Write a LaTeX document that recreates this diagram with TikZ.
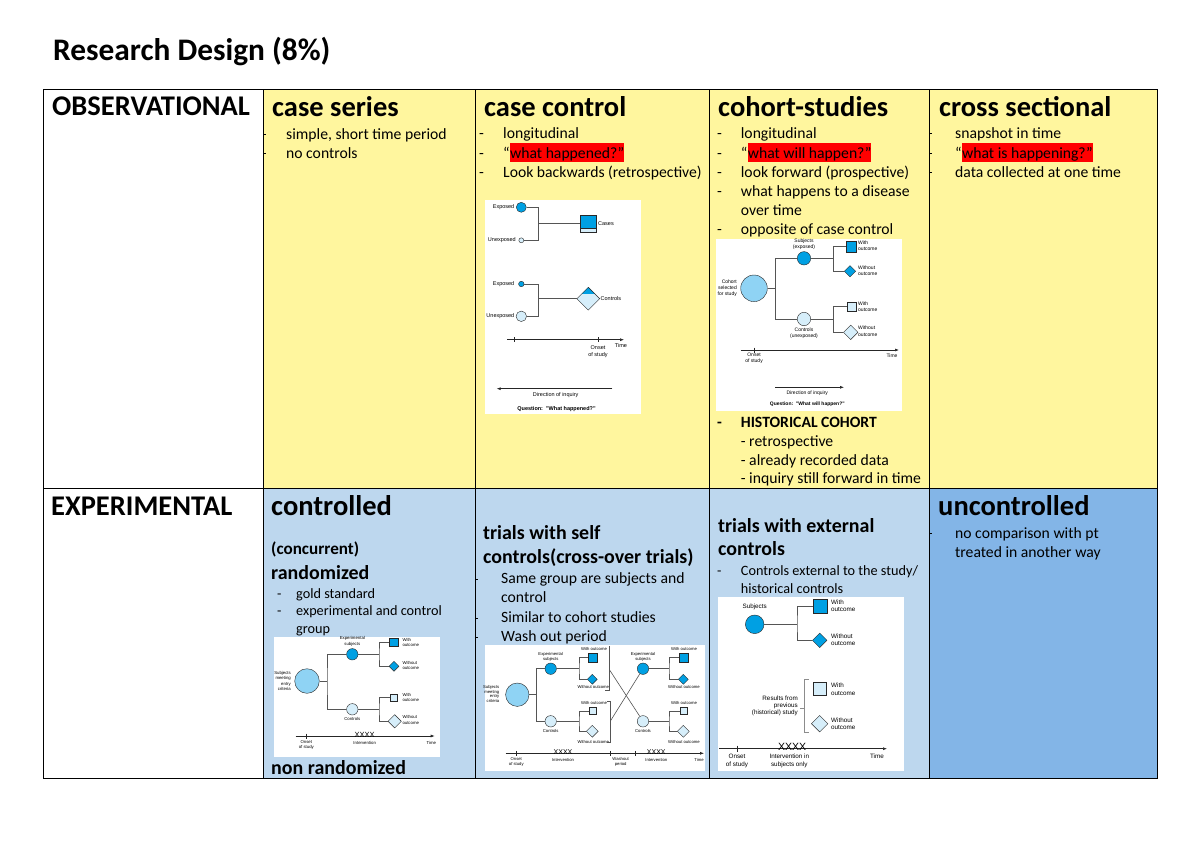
\documentclass[tikz,border=0pt]{standalone}
\usepackage{fontspec}
\setmainfont{Carlito}
\newfontfamily\dgf{Liberation Sans}
\usetikzlibrary{shapes.geometric,arrows.meta}
\definecolor{cYel}{RGB}{255,246,158}
\definecolor{cLbl}{RGB}{189,215,238}
\definecolor{cDbl}{RGB}{131,181,231}
\definecolor{cHl}{RGB}{255,0,0}
\definecolor{cSb}{RGB}{0,160,227}
\definecolor{cSl}{RGB}{214,238,250}
\definecolor{cSm}{RGB}{143,211,244}
\definecolor{cOl}{RGB}{40,40,40}
\definecolor{cLn}{RGB}{85,85,85}
\begin{document}
\begin{tikzpicture}[x=1pt,y=-1pt,
  sTx/.style={anchor=base west, inner sep=0pt, font=\fontsize{15.68pt}{18pt}\selectfont},
  sTb/.style={anchor=base west, inner sep=0pt, font=\bfseries\fontsize{15.68pt}{18pt}\selectfont},
  sTen/.style={anchor=base west, inner sep=0pt, font=\fontsize{14.25pt}{16pt}\selectfont},
  sHd/.style={anchor=base west, inner sep=0pt, font=\bfseries\fontsize{28.5pt}{32pt}\selectfont},
  sSub/.style={anchor=base west, inner sep=0pt, font=\bfseries\fontsize{19.95pt}{22pt}\selectfont},
  sSubs/.style={anchor=base west, inner sep=0pt, font=\bfseries\fontsize{17.1pt}{20pt}\selectfont},
  sTtl/.style={anchor=base west, inner sep=0pt, font=\bfseries\fontsize{31.35pt}{36pt}\selectfont},
  sHl/.style={anchor=base west, inner sep=0pt, fill=cHl, text height=15pt, text depth=4pt, font=\fontsize{15.68pt}{18pt}\selectfont},
  sDl/.style args={#1/#2}{inner sep=0pt, align=center, font=\dgf\fontsize{#1pt}{#2pt}\selectfont},
  sDot/.style={circle, draw=cOl, line width=0.4pt, inner sep=0pt},
  sSq/.style={rectangle, draw=cOl, line width=0.4pt, inner sep=0pt},
  sDia/.style={diamond, draw=cOl, line width=0.4pt, inner sep=0pt},
  sLn/.style={draw=cLn, line width=0.6pt},
  sAx/.style={draw=black!85, line width=0.6pt},
  sArr/.style={draw=black!85, line width=0.6pt, -{Latex[length=4pt,width=3pt]}},
  sTab/.style={draw=black, line width=0.9pt},
  sTick/.style={draw=black, line width=0.8pt}
]
\useasboundingbox (0,0) rectangle (1200,849);
% ---------- table ----------
\fill[cYel] (263,89) rectangle (1157,488);
\fill[cLbl] (263,488) rectangle (929,778);
\fill[cDbl] (929,488) rectangle (1157,778);
% image backgrounds
\fill[white] (485,200) rectangle (641,414);
\fill[white] (716,239) rectangle (902,411);
\fill[white] (274,637) rectangle (440,757);
\fill[white] (485,645) rectangle (705,771);
\fill[white] (718,597) rectangle (904,771);

% ---------- title and row heads ----------
\node[sTtl] (title) at (53,60) {Research Design (8\%)};
\node[sHd] (obsH) at (52,115) {OBSERVATIONAL};
\node[sHd] (expH) at (51,515) {EXPERIMENTAL};

% ---------- case series ----------
\node[sHd] (csH) at (272,116) {case series};
\node[sTx] (cs1) at (286,139) {simple, short time period};
\node[sTx] (cs2) at (286,158) {no controls};
\draw[sTick] (263,134.5) -- ++(3,0);
\draw[sTick] (263,153.5) -- ++(3,0);

% ---------- case control ----------
\node[sHd] (ccH) at (484,116) {case control};
\node[sTx] (cc1d) at (479,138) {-};
\node[sTx] (cc1) at (503,138) {longitudinal};
\node[sTx] (cc2d) at (479,158) {-};
\node[sTx] (cc2q) at (503,158) {“};
\node[sHl] (cc2) at (cc2q.base east) {what happened?”};
\node[sTx] (cc3d) at (479,177.3) {-};
\node[sTx] (cc3) at (503,177.3) {Look backwards (retrospective)};

% ---------- cohort ----------
\node[sHd] (coH) at (718,116) {cohort-studies};
\node[sTx] (co1d) at (717,138.3) {-};
\node[sTx] (co1) at (740.7,138.3) {longitudinal};
\node[sTx] (co2d) at (717,158) {-};
\node[sTx] (co2q) at (740.7,158) {“};
\node[sHl] (co2) at (co2q.base east) {what will happen?”};
\node[sTx] (co3d) at (717,177.3) {-};
\node[sTx] (co3) at (740.7,177.3) {look forward (prospective)};
\node[sTx] (co4d) at (717,196.7) {-};
\node[sTx] (co4) at (740.7,196.7) {what happens to a disease};
\node[sTx] (co5) at (740.7,215.5) {over time};
\node[sTx] (co6d) at (717,234.3) {-};
\node[sTx] (co6) at (740.7,234.3) {opposite of case control};
\node[sTb] (hc0d) at (717,427) {-};
\node[sTb] (hc0) at (740.7,427) {HISTORICAL COHORT};
\node[sTx] (hc1) at (740.7,446) {- retrospective};
\node[sTx] (hc2) at (740.7,465) {- already recorded data};
\node[sTx] (hc3) at (740.7,483.5) {- inquiry still forward in time};

% ---------- cross sectional ----------
\node[sHd] (xsH) at (939,116) {cross sectional};
\node[sTx] (xs1) at (955,138) {snapshot in time};
\node[sTx] (xs2q) at (955,158) {“};
\node[sHl] (xs2) at (xs2q.base east) {what is happening?”};
\node[sTx] (xs3) at (955,177.3) {data collected at one time};
\draw[sTick] (929,133.5) -- ++(3,0);
\draw[sTick] (929,153.5) -- ++(3,0);
\draw[sTick] (929,172.8) -- ++(3,0);

% ---------- controlled ----------
\node[sHd] (ctH) at (271,515) {controlled};
\node[sSubs] (conc) at (271,554) {(concurrent)};
\node[sSub] (rand) at (271,579) {randomized};
\node[sTen] (g1d) at (277,598.5) {-};
\node[sTen] (g1) at (296,598.5) {gold standard};
\node[sTen] (g2d) at (277,615.5) {-};
\node[sTen] (g2) at (296,615.5) {experimental and control};
\node[sTen] (g3) at (296,633) {group};
\node[sSub] (nonr) at (271,774) {non randomized};

% ---------- self controls ----------
\node[sSub] (sfH1) at (483,539.5) {trials with self};
\node[sSub] (sfH2) at (483,563.5) {controls(cross-over trials)};
\node[sTx] (sf1) at (501,583.5) {Same group are subjects and};
\node[sTx] (sf2) at (501,602.5) {control};
\node[sTx] (sf3) at (501,622.5) {Similar to cohort studies};
\node[sTx] (sf4) at (501,641.5) {Wash out period};
\draw[sTick] (475,579) -- ++(3,0);
\draw[sTick] (475,618) -- ++(3,0);
\draw[sTick] (475,637) -- ++(3,0);

% ---------- external controls ----------
\node[sSub] (exH1) at (718,532.7) {trials with external};
\node[sSub] (exH2) at (718,555.7) {controls};
\node[sTen] (ex1d) at (717,575.7) {-};
\node[sTen] (ex1) at (740.7,575.7) {Controls external to the study/};
\node[sTen] (ex2) at (740.7,593.3) {historical controls};

% ---------- uncontrolled ----------
\node[sHd] (unH) at (938,515) {uncontrolled};
\node[sTx] (un1) at (955,538.3) {no comparison with pt};
\node[sTx] (un2) at (955,557.3) {treated in another way};
\draw[sTick] (929,533.8) -- ++(3,0);

% ---------- table lines ----------
\draw[sTab] (43,89) rectangle (1157,778);
\draw[sTab] (43,488) -- (1157,488);
\foreach \xx in {263,475,709,929} \draw[sTab] (\xx,89) -- (\xx,778);

% ================= case-control diagram =================
\node[sDot, fill=cSb, minimum size=10pt] (ccE1) at (521.3,207.3) {};
\node[sDot, fill=cSl, minimum size=5pt] (ccU1) at (521.3,240.3) {};
\coordinate (ccJ1) at (538.3,223.5);
\node[sSq, fill=cSb, minimum size=16.5pt,
  path picture={\fill[cSl] (path picture bounding box.south west) rectangle ([yshift=4pt]path picture bounding box.south east);
  \draw[cOl, line width=0.4pt] ([yshift=4pt]path picture bounding box.south west) -- ([yshift=4pt]path picture bounding box.south east);}] (ccCase) at (588,223.5) {};
\draw[sLn] (ccE1.east) -| (ccJ1) |- (ccU1.east);
\draw[sLn] (ccJ1) -- (ccCase.west);
\node[sDl=5.5/6.7, anchor=east] (ccLE1) at (514.5,207.3) {Exposed};
\node[sDl=5.5/6.7, anchor=east] (ccLU1) at (516,240.3) {Unexposed};
\node[sDl=5.5/6.7, anchor=west] (ccLC) at (598,223.5) {Cases};
\node[sDot, fill=cSb, minimum size=5.5pt] (ccE2) at (521.3,284) {};
\node[sDot, fill=cSl, minimum size=10.5pt] (ccU2) at (521.3,316.3) {};
\coordinate (ccJ2) at (538.3,298.7);
\node[sDia, fill=cSl, minimum size=23pt,
  path picture={\fill[cSb] (path picture bounding box.north west) rectangle ([yshift=-7pt]path picture bounding box.north east);}] (ccCtl) at (588.3,298.7) {};
\draw[sLn] (ccE2.east) -| (ccJ2) |- (ccU2.east);
\draw[sLn] (ccJ2) -- (ccCtl.west);
\node[sDl=5.5/6.7, anchor=east] (ccLE2) at (514.5,284) {Exposed};
\node[sDl=5.5/6.7, anchor=east] (ccLU2) at (514.5,316.3) {Unexposed};
\node[sDl=5.5/6.7, anchor=west] (ccLK) at (600.5,298.7) {Controls};
\coordinate (ccT0) at (507.3,339.7);
\coordinate (ccT1) at (624,339.7);
\draw[sArr] (ccT0) -- (ccT1);
\coordinate (ccK1) at (514.7,339.7);
\coordinate (ccK2) at (598,339.7);
\draw[sAx] (ccK1) ++(0,-2.5) -- ++(0,5);
\draw[sAx] (ccK2) ++(0,-2.5) -- ++(0,5);
\node[sDl=5.5/6.7] (ccLT) at (621,345.5) {Time};
\node[sDl=5.5/6.7] (ccLO) at (598,351.5) {Onset\\of study};
\coordinate (ccD0) at (612.3,388.7);
\coordinate (ccD1) at (496.7,388.7);
\draw[sArr] (ccD0) -- (ccD1);
\node[sDl=5.5/6.7] (ccLD) at (555.7,395) {Direction of inquiry};
\node[sDl=5.5/6.7] (ccLQ) at (556.5,409) {\bfseries Question:\ \ "What happened?"};

% ================= cohort diagram =================
\node[sDot, fill=cSm, minimum size=26.6pt] (coC) at (754,288.3) {};
\node[sDot, fill=cSb, minimum size=13.4pt] (coS) at (804,258.3) {};
\node[sDot, fill=cSl, minimum size=13.4pt] (coK) at (804,319) {};
\coordinate (coJ) at (775.7,288.3);
\draw[sLn] (coC.east) -- (coJ);
\draw[sLn] (coS.west) -| (coJ) |- (coK.west);
\node[sDl=5/6.2, align=right, anchor=east] (coLC) at (737,288.3) {Cohort\\selected\\for study};
\node[sDl=5/6.2] (coLS) at (804,244.3) {Subjects\\(exposed)};
\node[sDl=5/6.2] (coLK) at (804,333.5) {Controls\\(unexposed)};
\coordinate (coJ1) at (833.3,258.3);
\node[sSq, fill=cSb, minimum size=10.6pt] (coSw) at (851,246.7) {};
\node[sDia, fill=cSb, minimum size=11.4pt] (coSo) at (850,271.3) {};
\draw[sLn] (coS.east) -- (coJ1);
\draw[sLn] (coSw.west) -| (coJ1) |- (coSo.west);
\coordinate (coJ2) at (833.3,319);
\node[sSq, fill=cSl, minimum size=9pt] (coKw) at (851.2,306.5) {};
\node[sDia, fill=cSl, minimum size=14.6pt] (coKo) at (850.7,332.3) {};
\draw[sLn] (coK.east) -- (coJ2);
\draw[sLn] (coKw.west) -| (coJ2) |- (coKo.west);
\node[sDl=5/6.2, align=left, anchor=west] (coL1) at (858,245.5) {With\\outcome};
\node[sDl=5/6.2, align=left, anchor=west] (coL2) at (858,271) {Without\\outcome};
\node[sDl=5/6.2, align=left, anchor=west] (coL3) at (858,306.7) {With\\outcome};
\node[sDl=5/6.2, align=left, anchor=west] (coL4) at (858,331.2) {Without\\outcome};
\coordinate (coT0) at (740.7,350);
\coordinate (coT1) at (899,350);
\draw[sArr] (coT0) -- (coT1);
\coordinate (coK1) at (754,350);
\draw[sAx] (coK1) ++(0,-2.5) -- ++(0,5);
\node[sDl=5/6.2] (coLO) at (754,358) {Onset\\of study};
\node[sDl=5/6.2] (coLT) at (892,356) {Time};
\coordinate (coD0) at (775,387.3);
\coordinate (coD1) at (844,387.3);
\draw[sArr] (coD0) -- (coD1);
\node[sDl=5/6.2] (coLD) at (807.3,393.5) {Direction of inquiry};
\node[sDl=5/6.2] (coLQ) at (807.3,404.7) {\bfseries Question:\ \ "What will happen?"};

% ================= controlled diagram =================
\node[sDot, fill=cSm, minimum size=24.6pt] (ctB) at (307,681) {};
\node[sDot, fill=cSb, minimum size=11.4pt] (ctE) at (352.3,654.3) {};
\node[sDot, fill=cSl, minimum size=11.4pt] (ctK) at (352.3,709.3) {};
\coordinate (ctJ) at (327,681);
\draw[sLn] (ctB.east) -- (ctJ);
\draw[sLn] (ctE.west) -| (ctJ) |- (ctK.west);
\node[sDl=4.3/5.2, align=right, anchor=east] (ctLB) at (291,681) {Subjects\\meeting\\entry\\criteria};
\node[sDl=4.3/5.2] (ctLE) at (352.3,641.3) {Experimental\\subjects};
\node[sDl=4.3/5.2] (ctLK) at (352.3,719) {Controls};
\coordinate (ctJ1) at (379,654.3);
\node[sSq, fill=cSb, minimum size=8.5pt] (ctEw) at (393.8,642.3) {};
\node[sDia, fill=cSb, minimum size=10pt] (ctEo) at (394,666.3) {};
\draw[sLn] (ctE.east) -- (ctJ1);
\draw[sLn] (ctEw.west) -| (ctJ1) |- (ctEo.west);
\coordinate (ctJ2) at (379,709.3);
\node[sSq, fill=cSl, minimum size=7pt] (ctKw) at (394,697.3) {};
\node[sDia, fill=cSl, minimum size=13.4pt] (ctKo) at (394.7,721.3) {};
\draw[sLn] (ctK.east) -- (ctJ2);
\draw[sLn] (ctKw.west) -| (ctJ2) |- (ctKo.west);
\node[sDl=4.3/5.6, align=left, anchor=west] (ctL1) at (402.3,642.3) {With\\outcome};
\node[sDl=4.3/5.6, align=left, anchor=west] (ctL2) at (402.3,665.3) {Without\\outcome};
\node[sDl=4.3/5.6, align=left, anchor=west] (ctL3) at (402.3,697.3) {With\\outcome};
\node[sDl=4.3/5.6, align=left, anchor=west] (ctL4) at (402.3,720) {Without\\outcome};
\coordinate (ctT0) at (295.7,736);
\coordinate (ctT1) at (434.7,736);
\draw[sArr] (ctT0) -- (ctT1);
\coordinate (ctK1) at (306.3,736);
\draw[sAx] (ctK1) ++(0,-2.5) -- ++(0,5);
\node[sDl=7.5/8] (ctX) at (364.7,735.3) {XXXX};
\node[sDl=4.3/5.2] (ctLO) at (306.3,745) {Onset\\of study};
\node[sDl=4.3/5.2] (ctLI) at (364.7,742.7) {Intervention};
\node[sDl=4.3/5.2] (ctLT) at (431.3,742.7) {Time};

% ================= cross-over diagram =================
\node[sDot, fill=cSm, minimum size=23.4pt] (crB) at (517.3,694.7) {};
\node[sDot, fill=cSb, minimum size=11.4pt] (crE1) at (550.7,668.7) {};
\node[sDot, fill=cSl, minimum size=11.4pt] (crK1) at (550.7,721.3) {};
\coordinate (crJ) at (536.7,694.7);
\draw[sLn] (crB.east) -- (crJ);
\draw[sLn] (crE1.west) -| (crJ) |- (crK1.west);
\node[sDl=4.2/4.6, align=right, anchor=east] (crLB) at (499.5,694) {Subjects\\meeting\\entry\\criteria};
\node[sDl=4.2/4.6] (crLE1) at (550.7,656.7) {Experimental\\subjects};
\node[sDl=4.2/4.6] (crLK1) at (550.7,731.3) {Controls};
\coordinate (crJ1) at (579,668.7);
\node[sSq, fill=cSb, minimum size=9pt] (crE1w) at (592.8,657.3) {};
\node[sDia, fill=cSb, minimum size=10pt] (crE1o) at (592.3,679.3) {};
\draw[sLn] (crE1.east) -- (crJ1);
\draw[sLn] (crE1w.west) -| (crJ1) |- (crE1o.west);
\coordinate (crJ2) at (579,721.3);
\node[sSq, fill=cSl, minimum size=7.5pt] (crK1w) at (592.7,710.8) {};
\node[sDia, fill=cSl, minimum size=12pt] (crK1o) at (592.3,731.3) {};
\draw[sLn] (crK1.east) -- (crJ2);
\draw[sLn] (crK1w.west) -| (crJ2) |- (crK1o.west);
\node[sDl=4.2/4.6] (crL1) at (594,648.7) {With outcome};
\node[sDl=4.2/4.6] (crL2) at (593.3,687) {Without outcome};
\node[sDl=4.2/4.6] (crL3) at (594,703) {With outcome};
\node[sDl=4.2/4.6] (crL4) at (593.3,742) {Without outcome};
\draw[sLn] (605,690.3) -- (609.3,690.3) -- (609.3,645.5);
\draw[sLn] (607,701.3) -- (610.7,701.3) -- (610.7,742) -- (607,742);
\node[sDot, fill=cSb, minimum size=11.4pt] (crE2) at (643,668.7) {};
\node[sDot, fill=cSl, minimum size=11.4pt] (crK2) at (643,721.3) {};
\coordinate (crX1) at (609.3,669.5);
\coordinate (crX2) at (610.7,720.5);
\draw[sLn] (crX1) -- (crK2);
\draw[sLn] (crX2) -- (crE2);
\node[sDl=4.2/4.6] (crLE2) at (643,656.7) {Experimental\\subjects};
\node[sDl=4.2/4.6] (crLK2) at (643,731.3) {Controls};
\coordinate (crJ3) at (669,668.7);
\node[sSq, fill=cSb, minimum size=9pt] (crE2w) at (683.5,657.3) {};
\node[sDia, fill=cSb, minimum size=10pt] (crE2o) at (683.3,679.3) {};
\draw[sLn] (crE2.east) -- (crJ3);
\draw[sLn] (crE2w.west) -| (crJ3) |- (crE2o.west);
\coordinate (crJ4) at (669,721.3);
\node[sSq, fill=cSl, minimum size=7.5pt] (crK2w) at (683.7,710.8) {};
\node[sDia, fill=cSl, minimum size=12pt] (crK2o) at (683.3,731.3) {};
\draw[sLn] (crK2.east) -- (crJ4);
\draw[sLn] (crK2w.west) -| (crJ4) |- (crK2o.west);
\node[sDl=4.2/4.6] (crL5) at (684,648.7) {With outcome};
\node[sDl=4.2/4.6] (crL6) at (684,687) {Without outcome};
\node[sDl=4.2/4.6] (crL7) at (684,703) {With outcome};
\node[sDl=4.2/4.6] (crL8) at (684,742) {Without outcome};
\coordinate (crT0) at (505.7,753.3);
\coordinate (crT1) at (704,753.3);
\draw[sArr] (crT0) -- (crT1);
\coordinate (crK1t) at (516.3,753.3);
\coordinate (crK2t) at (610.7,753.3);
\coordinate (crK3t) at (635.7,753.3);
\draw[sAx] (crK1t) ++(0,-2.5) -- ++(0,5);
\draw[sAx] (crK2t) ++(0,-2.5) -- ++(0,5);
\draw[sAx] (crK3t) ++(0,-2.5) -- ++(0,5);
\node[sDl=7/8] (crXa) at (563,752.5) {XXXX};
\node[sDl=7/8] (crXb) at (656.3,752.5) {XXXX};
\node[sDl=4.2/4.8] (crLO) at (516.3,761.8) {Onset\\of study};
\node[sDl=4.2/4.8] (crLI1) at (563,759.7) {Intervention};
\node[sDl=4.2/4.8] (crLW) at (620.7,761.8) {Washout\\period};
\node[sDl=4.2/4.8] (crLI2) at (656.3,759.7) {Intervention};
\node[sDl=4.2/4.8] (crLT) at (699,759.7) {Time};

% ================= external controls diagram =================
\node[sDot, fill=cSb, minimum size=18.6pt] (exS) at (754.7,624.3) {};
\coordinate (exJ) at (797,624.3);
\node[sSq, fill=cSb, minimum size=14pt] (exW) at (819.8,606) {};
\node[sDia, fill=cSb, minimum size=14.6pt] (exO) at (819.7,640.3) {};
\draw[sLn] (exS.east) -- (exJ);
\draw[sLn] (exW.west) -| (exJ) |- (exO.west);
\node[sDl=6.3/7.4] (exLS) at (754.7,607) {Subjects};
\node[sDl=6.3/7.4, align=left, anchor=west] (exL1) at (831,606) {With\\outcome};
\node[sDl=6.3/7.4, align=left, anchor=west] (exL2) at (831,640) {Without\\outcome};
\node[sSq, fill=cSl, minimum size=12.3pt] (exHw) at (819.8,688.7) {};
\node[sDia, fill=cSl, minimum size=16.6pt] (exHo) at (819.7,723.7) {};
\node[sDl=6.3/7.4, align=left, anchor=west] (exL3) at (831,689.3) {With\\outcome};
\node[sDl=6.3/7.4, align=left, anchor=west] (exL4) at (831,723.8) {Without\\outcome};
\draw[draw=black!45, line width=0.6pt] (808.7,679.3) -- (804.7,679.3) -- (804.7,732) -- (808.7,732);
\draw[draw=black!45, line width=0.6pt] (800,708) -- (804.7,708);
\node[sDl=6.3/6.8, align=right, anchor=east] (exLR) at (798,706) {Results from\\previous\\(historical) study};
\coordinate (exT0) at (719.3,748.7);
\coordinate (exT1) at (887,748.7);
\draw[sArr] (exT0) -- (exT1);
\coordinate (exK1) at (737,748.7);
\draw[sAx] (exK1) ++(0,-3) -- ++(0,6);
\node[sDl=10.5/11] (exX) at (792,747.3) {XXXX};
\node[sDl=6.3/7.6] (exLO) at (737,761) {Onset\\of study};
\node[sDl=6.3/7.6] (exLI) at (789.3,761) {Intervention in\\subjects only};
\node[sDl=6.3/7.6] (exLT) at (877,756) {Time};
\end{tikzpicture}
\end{document}
